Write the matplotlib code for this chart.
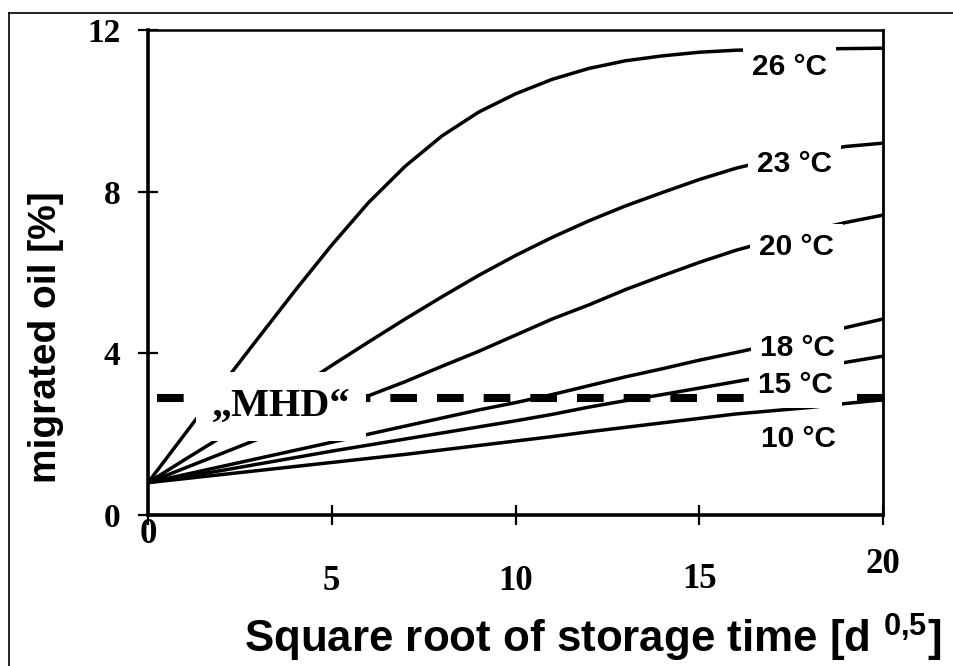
import matplotlib
matplotlib.use("Agg")
import matplotlib.pyplot as plt
from matplotlib.lines import Line2D

plt.rcParams['lines.scale_dashes'] = False
plt.rcParams['mathtext.fontset'] = 'custom'
plt.rcParams['mathtext.bf'] = 'Liberation Sans:bold'
plt.rcParams['mathtext.rm'] = 'Liberation Sans:bold'

# ---- data ----
x_sqrt_time = [0, 1, 2, 3, 4, 5, 6, 7, 8, 9, 10, 11, 12, 13, 14, 15, 16, 17, 18, 19, 20]
oil_26 = [0.8, 2.0, 3.2, 4.38, 5.55, 6.68, 7.73, 8.63, 9.38, 9.97, 10.42, 10.78, 11.05, 11.24, 11.36, 11.45, 11.5, 11.52, 11.53, 11.54, 11.55]
oil_23 = [0.8, 1.37, 1.93, 2.5, 3.1, 3.7, 4.28, 4.85, 5.4, 5.93, 6.42, 6.87, 7.28, 7.65, 7.98, 8.3, 8.58, 8.8, 8.98, 9.12, 9.2]
oil_20 = [0.8, 1.16, 1.52, 1.88, 2.24, 2.6, 2.95, 3.3, 3.68, 4.05, 4.45, 4.85, 5.2, 5.58, 5.92, 6.25, 6.55, 6.8, 7.03, 7.24, 7.42]
oil_18 = [0.8, 1.0, 1.2, 1.4, 1.6, 1.8, 2.0, 2.2, 2.4, 2.6, 2.78, 2.98, 3.2, 3.42, 3.62, 3.83, 4.02, 4.22, 4.43, 4.64, 4.85]
oil_15 = [0.8, 0.95, 1.1, 1.26, 1.42, 1.58, 1.73, 1.88, 2.03, 2.18, 2.33, 2.49, 2.67, 2.83, 2.98, 3.14, 3.3, 3.46, 3.62, 3.78, 3.93]
oil_10 = [0.8, 0.9, 1.0, 1.1, 1.2, 1.3, 1.4, 1.5, 1.61, 1.72, 1.83, 1.94, 2.06, 2.17, 2.28, 2.39, 2.5, 2.58, 2.66, 2.76, 2.85]
series = [oil_26, oil_23, oil_20, oil_18, oil_15, oil_10]
series_labels = ["26 °C", "23 °C", "20 °C", "18 °C", "15 °C", "10 °C"]

mhd_value = 2.9
mhd_x = [0.24, 20]
mhd_label = "„MHD“"

xtick_values = [0, 5, 10, 15, 20]
xtick_labels = ["0", "5", "10", "15", "20"]
ytick_values = [0, 4, 8, 12]
ytick_labels = ["0", "4", "8", "12"]

x_label = r"Square root of storage time [d $^{\mathbf{0{,}5}}$]"
y_label = "migrated oil [%]"

# ---- layout (not data) ----
label_pos_x = [16.44, 16.57, 16.63, 16.65, 16.6, 16.68]
label_pos_y = [10.89, 8.49, 6.43, 3.93, 3.02, 1.68]
xtick_label_y = [-0.041, -0.138, -0.138, -0.134, -0.103]

W, H = 954, 666
fig = plt.figure(figsize=(W / 100, H / 100), dpi=100)
ax = fig.add_axes([148 / W, 1 - 515 / H, (883 - 148) / W, (515 - 30) / H])

for ys in series:
    ax.plot(x_sqrt_time, ys, color='black', lw=2.5, solid_capstyle='butt',
            solid_joinstyle='round', zorder=2)

ax.plot(mhd_x, [mhd_value, mhd_value], color='black', lw=5.8,
        dashes=(19.2, 14.4), solid_capstyle='butt', dash_capstyle='butt', zorder=2)

sans = 'Liberation Sans'
serif = 'Liberation Serif'

for lx, ly, txt in zip(label_pos_x, label_pos_y, series_labels):
    ax.text(lx, ly, txt, family=sans, weight='bold', fontsize=21.5,
            ha='left', va='baseline', zorder=4,
            bbox=dict(boxstyle='square,pad=0.3', facecolor='white', edgecolor='none'))

ax.text(3.62, 2.45, mhd_label, family=serif, weight='bold', fontsize=29,
        ha='center', va='baseline', zorder=4,
        bbox=dict(boxstyle='square,pad=0.4', facecolor='white', edgecolor='none'))

ax.set_xlim(0, 20)
ax.set_ylim(0, 12)
ax.set_xticks(xtick_values)
ax.set_yticks(ytick_values)
ax.set_yticklabels(ytick_labels, family=serif, weight='bold', fontsize=24)
ax.tick_params(axis='both', direction='inout', length=14, width=1.6, color='black')
ax.tick_params(axis='y', pad=13)
ax.tick_params(axis='x', labelbottom=False)

for xv, lbl, yy in zip(xtick_values, xtick_labels, xtick_label_y):
    ax.text(xv, yy, lbl, transform=ax.get_xaxis_transform(), family=serif,
            weight='bold', fontsize=25, ha='center', va='center', clip_on=False)

ax.spines['left'].set_linewidth(2.6)
ax.spines['bottom'].set_linewidth(2.6)
ax.spines['top'].set_linewidth(1.8)
ax.spines['right'].set_linewidth(2.0)

ax.set_xlabel(x_label, family=sans, weight='bold', fontsize=31.6, ha='left', va='baseline')
ax.xaxis.set_label_coords((244 - 148) / 735, (515 - 653) / 485)
ax.set_ylabel(y_label, family=sans, weight='bold', fontsize=28, rotation=90, ha='center', va='center')
ax.yaxis.set_label_coords((46.5 - 148) / 735, (515 - 337) / 485)

# outer frame (left and top edges visible)
fx = 9 / W
fy = 1 - 13 / H
fig.add_artist(Line2D([fx, fx], [0, fy], transform=fig.transFigure, color='black', lw=1.2))
fig.add_artist(Line2D([fx, 1], [fy, fy], transform=fig.transFigure, color='black', lw=1.2))

fig.savefig("out.png", dpi=100)
